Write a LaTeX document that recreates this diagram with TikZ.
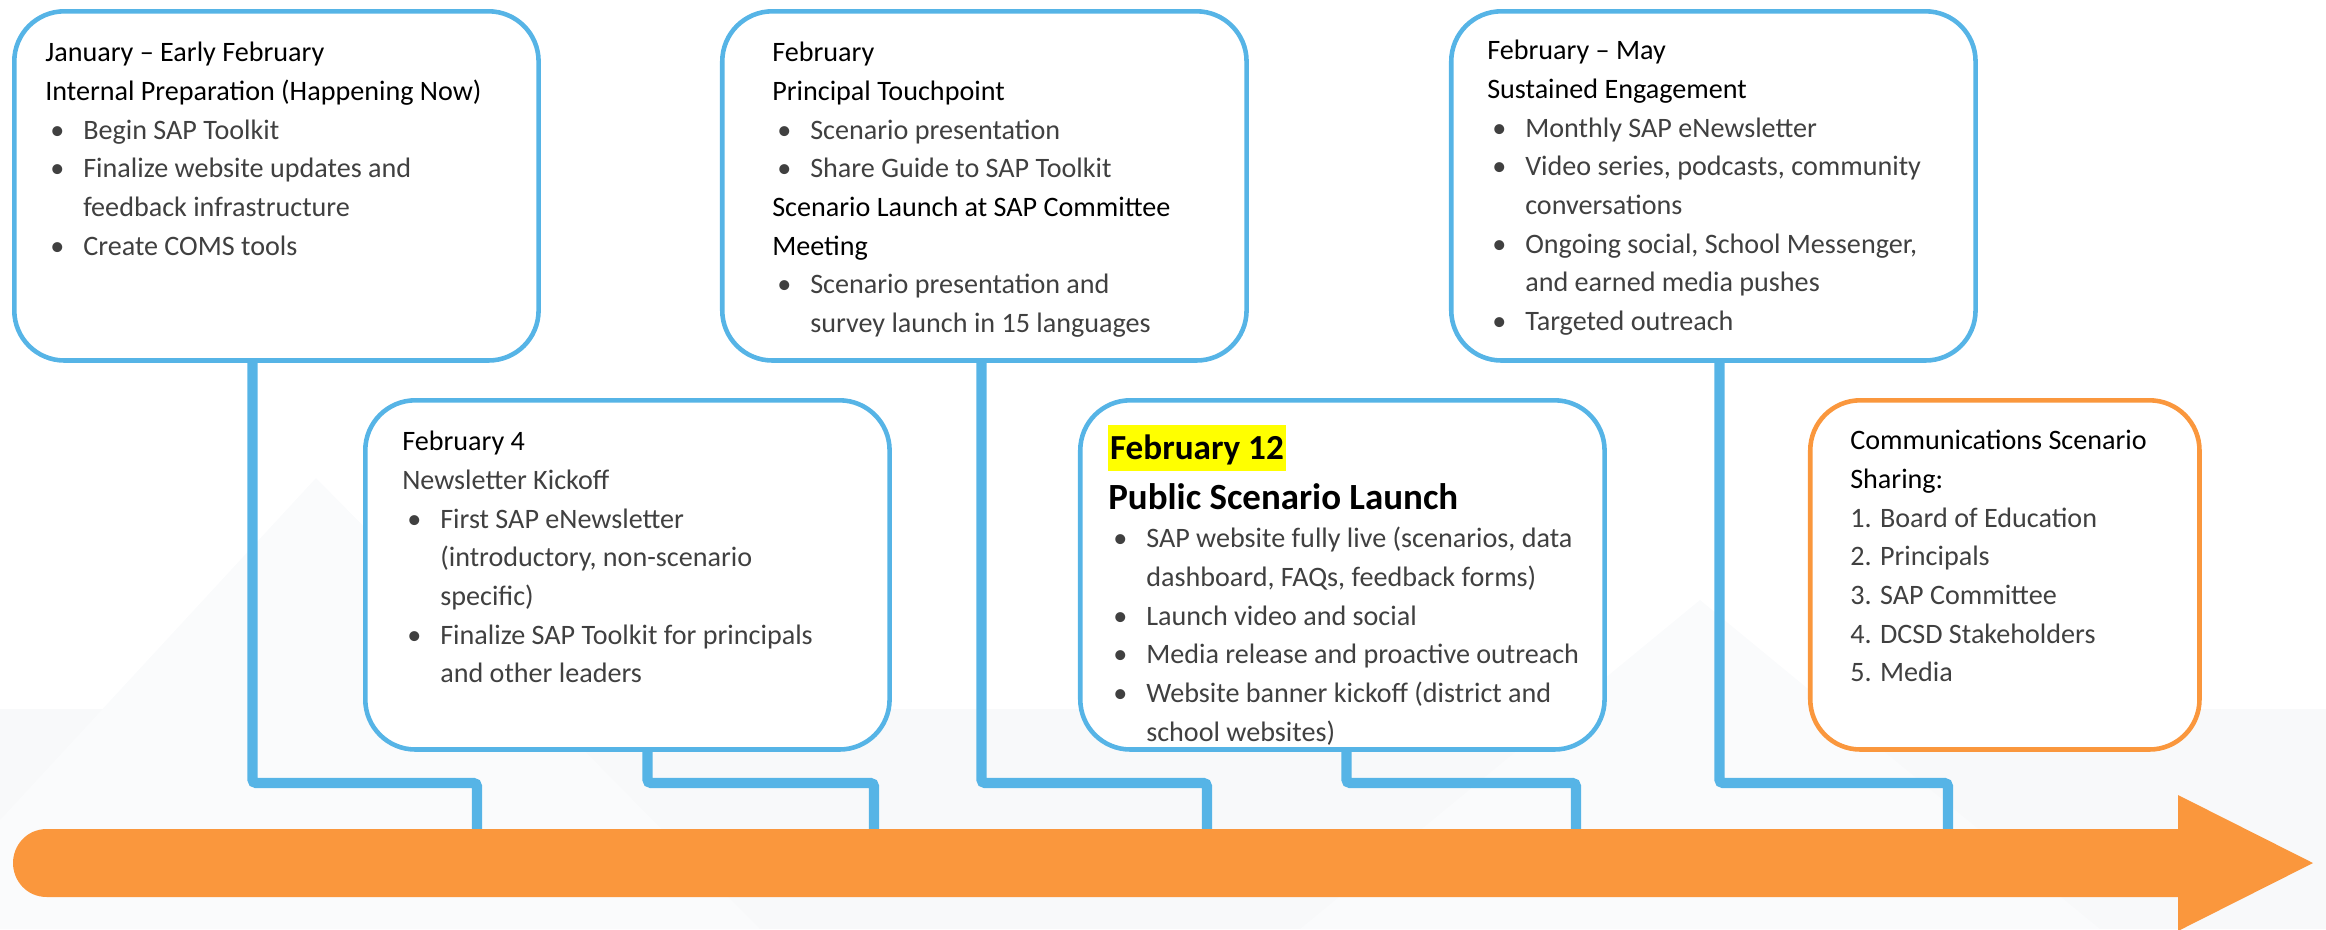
\documentclass[tikz,border=0pt]{standalone}
\usepackage{fontspec}
\setmainfont{Carlito}
\usetikzlibrary{positioning}
\definecolor{SkyBlue}{HTML}{56B4E6}
\definecolor{TimeOrange}{HTML}{FA973D}
\definecolor{TextGray}{HTML}{404040}
\definecolor{BgGray}{HTML}{F8F9FA}
\definecolor{BgLight}{HTML}{FAFBFC}
\definecolor{MarkYellow}{HTML}{FFFF00}

% card text: width, left pad, top pad, content
\newcommand\cardbody[4]{%
  \begin{minipage}[t][3.49cm][t]{#1}%
  \raggedright\leftskip=#2\relax\parindent=0pt
  \vspace*{#3}\color{TextGray}#4%
  \end{minipage}}
\newcommand\cardhead[1]{\par\leavevmode{\color{black}#1}}
\newcommand\cardline[1]{\par\leavevmode#1}
\newcommand\cardbul[1]{\par\hangindent=0.38cm\hangafter=1\leavevmode\makebox[0.38cm][l]{\hspace{0.05cm}\textbullet}#1}

\tikzset{
  card/.style={draw=SkyBlue, line width=1.3pt, rounded corners=0.5cm, fill=white, inner sep=0pt, font=\fontsize{8}{11}\selectfont},
  orangecard/.style={card, draw=TimeOrange},
  link/.style={draw=SkyBlue, line width=2.9pt, rounded corners=1pt}
}

\begin{document}
\begin{tikzpicture}[x=0.01cm, y=-0.01cm]
\useasboundingbox (0,0) rectangle (2326,929);

% faint backdrop
\fill[BgGray] (0,709) rectangle (2326,929);
\fill[BgLight] (316,478) -- (760,929) -- (0,929) -- (0,820) -- cycle;
\fill[BgLight] (1700,600) -- (2100,929) -- (1300,929) -- cycle;

% upper row
\node[card, anchor=north west] (jan) at (12,9) {\cardbody{5.24cm}{0.31cm}{0.31cm}{%
\cardhead{January – Early February}
\cardhead{Internal Preparation (Happening Now)}
\cardbul{Begin SAP Toolkit}
\cardbul{Finalize website updates and\newline feedback infrastructure}
\cardbul{Create COMS tools}}};
\node[card, right=1.79cm of jan] (feb) {\cardbody{5.24cm}{0.5cm}{0.31cm}{%
\cardhead{February}
\cardhead{Principal Touchpoint}
\cardbul{Scenario presentation}
\cardbul{Share Guide to SAP Toolkit}
\cardhead{Scenario Launch at SAP Committee\newline Meeting}
\cardbul{Scenario presentation and\newline survey launch in 15 languages}}};
\node[card, right=2.00cm of feb] (febmay) {\cardbody{5.24cm}{0.36cm}{0.29cm}{%
\cardhead{February – May}
\cardhead{Sustained Engagement}
\cardbul{Monthly SAP eNewsletter}
\cardbul{Video series, podcasts, community\newline conversations}
\cardbul{Ongoing social, School Messenger,\newline and earned media pushes}
\cardbul{Targeted outreach}}};

% lower row
\node[card, anchor=north west] (feb4) at (363,398) {\cardbody{5.24cm}{0.37cm}{0.31cm}{%
\cardhead{February 4}
\cardline{Newsletter Kickoff}
\cardbul{First SAP eNewsletter\newline (introductory, non-scenario\newline specific)}
\cardbul{Finalize SAP Toolkit for principals\newline and other leaders}}};
\node[card, right=1.86cm of feb4] (feb12) {\cardbody{5.24cm}{0.28cm}{0.25cm}{%
\leavevmode{\fontsize{10}{12}\selectfont\bfseries\setlength\fboxsep{0.5pt}\colorbox{MarkYellow}{\color{black}\rule[-0.27em]{0pt}{1.2em}February 12}\par}
{\fontsize{10.5}{14}\selectfont\bfseries\leavevmode\color{black}Public Scenario Launch\par}
\cardbul{SAP website fully live (scenarios, data\newline dashboard, FAQs, feedback forms)}
\cardbul{Launch video and social}
\cardbul{Media release and proactive outreach}
\cardbul{Website banner kickoff (district and\newline school websites)}}};
\node[orangecard, right=2.01cm of feb12] (sharing) {\cardbody{3.89cm}{0.40cm}{0.30cm}{%
\cardhead{Communications Scenario\newline Sharing:}
\cardline{1. Board of Education}
\cardline{2. Principals}
\cardline{3. SAP Committee}
\cardline{4. DCSD Stakeholders}
\cardline{5. Media}}};

% drop points on the timeline
\coordinate (d1) at (477,831);
\coordinate (d2) at (874,831);
\coordinate (d3) at (1207,831);
\coordinate (d4) at (1576,831);
\coordinate (d5) at (1948,831);

\draw[link] (jan.south) ++(-24,0) |- ([yshift=0.48cm]d1) -- (d1);
\draw[link] (feb4.south) ++(20,0) |- ([yshift=0.48cm]d2) -- (d2);
\draw[link] (feb.south) ++(-3,0) |- ([yshift=0.48cm]d3) -- (d3);
\draw[link] (feb12.south) ++(4,0) |- ([yshift=0.48cm]d4) -- (d4);
\draw[link] (febmay.south) ++(6,0) |- ([yshift=0.48cm]d5) -- (d5);

% timeline arrow
\fill[TimeOrange] (2178,829) -- (47,829) .. controls (26,829) and (13,846) .. (13,863)
  .. controls (13,880) and (26,897) .. (47,897) -- (2178,897) -- (2178,931)
  -- (2313,863) -- (2178,795) -- cycle;
\end{tikzpicture}
\end{document}
